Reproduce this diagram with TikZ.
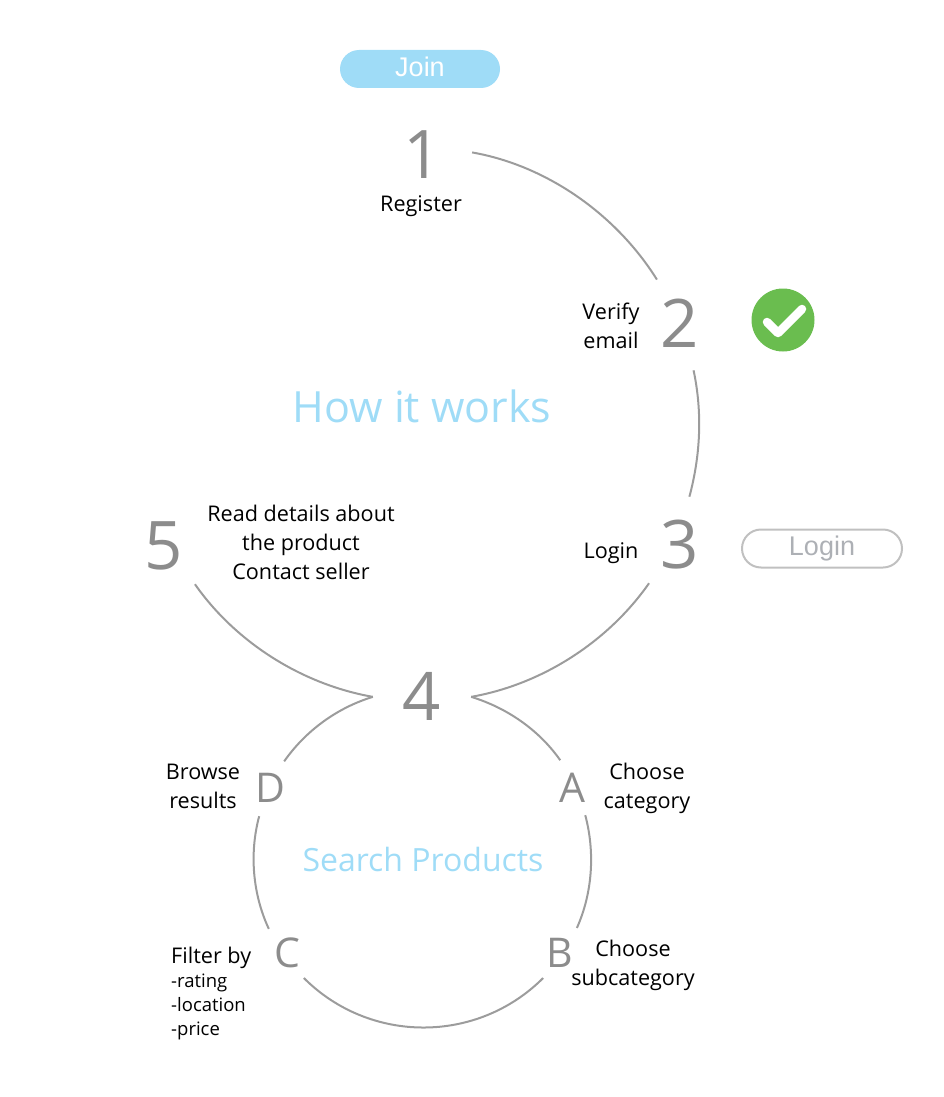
\documentclass[tikz,border=0pt]{standalone}
\usepackage{fontspec}
\setmainfont{Open Sans}
\newfontfamily\pillfont{Liberation Sans}
\usetikzlibrary{calc}
\definecolor{ringgray}{HTML}{9C9C9C}
\definecolor{numgray}{HTML}{8C8C8C}
\definecolor{skyblue}{HTML}{9FDCF7}
\definecolor{okgreen}{HTML}{6ABD4F}
\definecolor{pillgray}{HTML}{C0C0C0}
\definecolor{pilltext}{HTML}{ADB0B5}
\tikzset
{
    stepnum/.style    = {circle, inner sep=0pt, minimum size=98pt, text=numgray, font=\fontsize{67}{67}\selectfont},
    subnum/.style     = {circle, inner sep=0pt, minimum size=60pt, text=numgray, font=\fontsize{41}{41}\selectfont},
    steplabel/.style  = {align=center, inner sep=0pt, font=\fontsize{21.6}{29}\selectfont},
    filterlist/.style = {align=left, inner sep=0pt, anchor=north west, font=\fontsize{18.5}{24}\selectfont},
    bigtitle/.style   = {inner sep=0pt, text=skyblue, font=\fontsize{43}{43}\selectfont},
    subtitle/.style   = {inner sep=0pt, text=skyblue, font=\fontsize{32}{32}\selectfont},
    pill/.style       = {rectangle, rounded corners=19pt, minimum width=160pt, minimum height=38pt, inner sep=0pt, font=\pillfont\fontsize{27}{27}\selectfont},
    ring/.style       = {draw=ringgray, line width=2pt, looseness=0.87}
}

\begin{document}
\begin{tikzpicture}[x=1pt, y=-1pt]
    \useasboundingbox (0,0) rectangle (944,1097);

    \node [pill, fill=skyblue, text=white, text depth=4pt] (joinpill) at (420,69) {Join};
    \node [pill, draw=pillgray, line width=2pt, text=pilltext] (loginpill) at (822,548.5) {Login};
    \node [circle, fill=okgreen, inner sep=0pt, minimum size=63pt] (okbadge) at (783,320) {};
    \draw [white, line width=8.5pt, line cap=round, line join=round]
        ([shift={(-16,2)}]okbadge.center) -- ([shift={(-5,13)}]okbadge.center) -- ([shift={(19,-11)}]okbadge.center);

    \node [stepnum] (num1) at (423,155) {1};
    \node [stepnum] (num2) at (680,323) {2};
    \node [stepnum] (num3) at (680,545) {3};
    \node [stepnum] (num4) at (422,696) {4};
    \node [stepnum] (num5) at (164,546) {5};
    \node [subnum] (letA) at (572,788) {A};
    \node [subnum] (letB) at (560,953) {B};
    \node [subnum] (letC) at (287,953) {C};
    \node [subnum] (letD) at (270,788) {D};

    \node [steplabel] (register) at (421,206) {Register};
    \node [steplabel] (verify) at (611,326) {Verify\\email};
    \node [steplabel] (login) at (611,553) {Login};
    \node [steplabel] (details) at (301,542) {Read details about\\the product\\Contact seller};
    \node [steplabel] (category) at (647,788) {Choose\\category};
    \node [steplabel] (subcategory) at (633,965.5) {Choose\\subcategory};
    \node [steplabel] (browse) at (203,786.5) {Browse\\results};
    \node [steplabel, anchor=north west, align=left] (filter) at (171,947) {Filter by};
    \node [filterlist] (filteropts) at (171,974) {-rating\\-location\\-price};

    \node [bigtitle] (howworks) at (422,406) {How it works};
    \node [subtitle] (searchprod) at (423,859.5) {Search Products};

    \draw [ring] (num1.3) to [out=-10, in=122] (num2.118);
    \draw [ring] (num2.-74) to [out=-78, in=75] (num3.79);
    \draw [ring] (num3.231) to [out=-125, in=10] (num4.-1);
    \draw [ring] (num5.-51) to [out=-55, in=170] (num4.181);
    \draw [ring] (num4.-1) to [out=-17, in=125] (letA.113);
    \draw [ring] (letA.-64) to [out=-75, in=66] (letB.56);
    \draw [ring, looseness=1] (letB.-124) to [out=-135, in=-45] (letC.-56);
    \draw [ring] (letC.127) to [out=115, in=255] (letD.249);
    \draw [ring] (letD.62) to [out=55, in=197] (num4.181);
\end{tikzpicture}
\end{document}
